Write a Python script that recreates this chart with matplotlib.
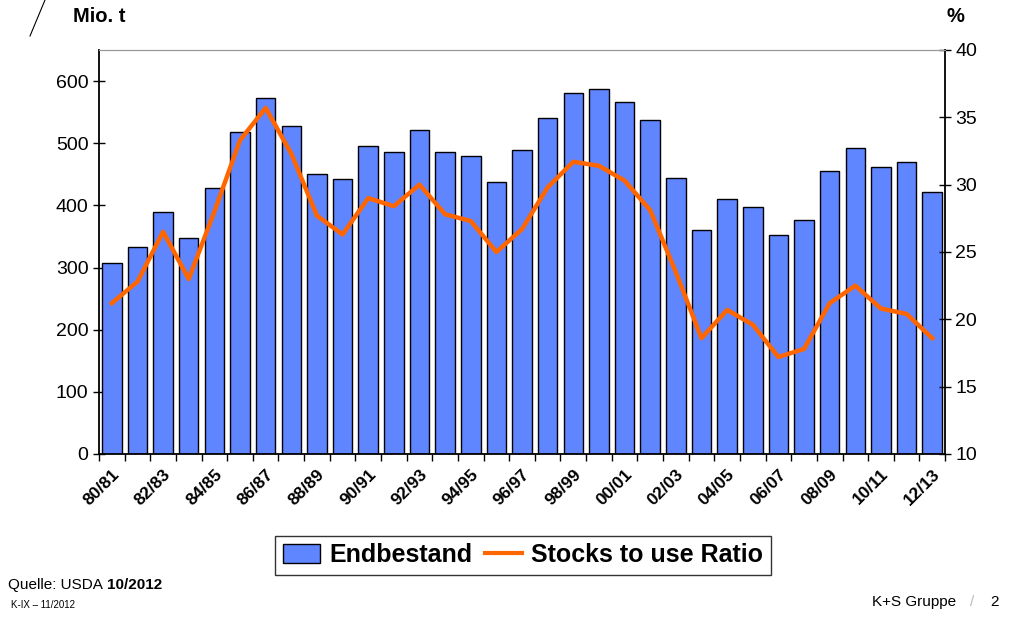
import numpy as np
import matplotlib
matplotlib.use("Agg")
import matplotlib.pyplot as plt
from matplotlib.lines import Line2D

plt.rcParams["font.family"] = ["Liberation Sans", "DejaVu Sans"]

# Data
seasons = [f"{y % 100:02d}/{(y + 1) % 100:02d}" for y in range(1980, 2013)]
endbestand = [308, 333, 389, 348, 428, 518, 572, 528, 451, 443, 496, 486,
              522, 486, 480, 438, 489, 541, 581, 587, 567, 537, 444, 361,
              411, 397, 353, 376, 455, 493, 461, 469, 422]
stocks_ratio = [21.2, 22.8, 26.5, 23.0, 28.0, 33.3, 35.7, 32.3, 27.7, 26.3,
                29.0, 28.4, 30.0, 27.8, 27.3, 25.0, 26.7, 29.8, 31.7, 31.4,
                30.3, 28.1, 23.5, 18.6, 20.7, 19.6, 17.2, 17.8, 21.2, 22.5,
                20.8, 20.4, 18.6]

BAR_COLOR = "#5F85FF"
LINE_COLOR = "#FF6600"

fig = plt.figure(figsize=(10.24, 6.18), dpi=100)
ax = fig.add_axes([0.0967, 0.2654, 0.8262, 0.6537])
x = np.arange(len(seasons))

ax.bar(x, endbestand, width=0.76, color=BAR_COLOR, edgecolor="black",
       linewidth=1.0, zorder=2)
ax.set_xlim(-0.5, len(seasons) - 0.5)
ax.set_ylim(0, 650)
ax.set_yticks(range(0, 700, 100))
ax.tick_params(axis="y", direction="inout", length=8, width=1, labelsize=14)

# category boundary ticks, labels on every other season
ax.set_xticks(np.arange(-0.5, len(seasons), 1.0))
ax.set_xticklabels([])
ax.set_xticks(x[::2], minor=True)
ax.set_xticklabels(seasons[::2], minor=True, rotation=45, ha="right",
                   rotation_mode="anchor", fontsize=12.5, fontweight="bold")
ax.tick_params(axis="x", which="major", direction="out", length=5, width=1)
ax.tick_params(axis="x", which="minor", length=0, pad=9)

for s in ("left", "bottom"):
    ax.spines[s].set_linewidth(1.3)
ax.spines["top"].set_color("#999999")
ax.spines["right"].set_visible(False)

ax2 = ax.twinx()
ax2.plot(x, stocks_ratio, color=LINE_COLOR, linewidth=3.2, zorder=3)
ax2.set_ylim(10, 40)
ax2.set_yticks(range(10, 45, 5))
ax2.tick_params(axis="y", direction="inout", length=8, width=1, labelsize=14)
ax2.spines["right"].set_linewidth(1.3)
ax2.spines["top"].set_color("#999999")
ax2.spines["left"].set_visible(False)
ax2.spines["bottom"].set_visible(False)

# axis unit labels
fig.text(73 / 1024, 1 - 17 / 618, "Mio. t", fontsize=14.5, fontweight="bold",
         va="center", ha="left")
fig.text(955 / 1024, 1 - 17 / 618, "%", fontsize=14.5, fontweight="bold",
         va="center", ha="center")
fig.add_artist(Line2D([30 / 1024, 45 / 1024], [1 - 36 / 618, 1.0],
                      color="black", linewidth=0.8))

# legend
handles = [plt.Rectangle((0, 0), 1, 1, facecolor=BAR_COLOR, edgecolor="black"),
           Line2D([], [], color=LINE_COLOR, linewidth=3)]
leg = fig.legend(handles, ["Endbestand", "Stocks to use Ratio"],
                 loc="center", bbox_to_anchor=(523 / 1024, 1 - 555 / 618),
                 ncol=2, frameon=True, fancybox=False, handlelength=1.5,
                 handleheight=0.8, handletextpad=0.35, columnspacing=0.5,
                 borderpad=0.3, borderaxespad=0,
                 prop={"size": 18, "weight": "bold"})
leg.get_frame().set_edgecolor("black")
leg.get_frame().set_linewidth(1.0)

# footer
fig.canvas.draw()
src = fig.text(8 / 1024, 1 - 585 / 618, "Quelle: USDA", fontsize=11,
               va="center")
bb = src.get_window_extent(fig.canvas.get_renderer())
fig.text((bb.x1 + 4) / 1024, 1 - 585 / 618, "10/2012", fontsize=11,
         va="center", fontweight="bold")
fig.text(11 / 1024, 1 - 605 / 618, "K-IX \u2013 11/2012", fontsize=7,
         va="center")
fig.text(872 / 1024, 1 - 602 / 618, "K+S Gruppe", fontsize=11, va="center")
fig.text(970 / 1024, 1 - 602 / 618, "/", fontsize=11, va="center",
         color="#BBBBBB")
fig.text(990 / 1024, 1 - 602 / 618, "2", fontsize=11, va="center")

fig.savefig("out.png", dpi=100)
